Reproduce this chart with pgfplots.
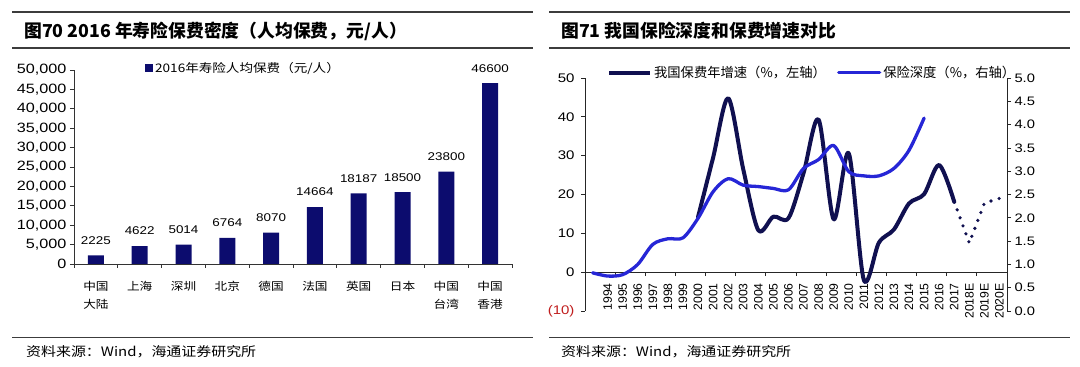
\documentclass[border=0pt]{standalone}
\usepackage{pgfplots}
\pgfplotsset{compat=1.18}
\usepackage{fontspec}
\setmainfont{Liberation Sans}
\newfontfamily\numf[FakeStretch=1.2]{Liberation Sans}
\newfontfamily\cjk{Noto Sans CJK SC}
\newfontfamily\cjkw[FakeStretch=1.15]{Noto Sans CJK SC}
\definecolor{barblue}{RGB}{12,12,110}
\definecolor{darkline}{RGB}{16,16,80}
\definecolor{bluel}{RGB}{38,38,214}
\definecolor{rulec}{RGB}{60,60,60}
\definecolor{redlab}{RGB}{192,30,30}
\newcommand{\fs}[1]{\fontsize{#1pt}{#1pt}\selectfont}
\pgfplotsset{/pgf/number format/assume math mode=true}
\begin{document}
\begin{tikzpicture}
\path[use as bounding box] (0,0) rectangle (1080pt,367pt);
% rules
\draw[rulec, line width=1.3pt] (12pt,355pt) -- (533pt,355pt);
\draw[rulec, line width=1.3pt] (12pt,319pt) -- (533pt,319pt);
\draw[rulec, line width=1pt] (12pt,29pt) -- (533pt,29pt);
\draw[rulec, line width=1.3pt] (549pt,355pt) -- (1070pt,355pt);
\draw[rulec, line width=1.3pt] (549pt,319pt) -- (1070pt,319pt);
\draw[rulec, line width=1pt] (549pt,29pt) -- (1070pt,29pt);
% titles
\node[anchor=west, inner sep=0pt] at (24pt,336pt) {\cjk\bfseries\fs{17.8}图70 2016 年寿险保费密度（人均保费，元/人）};
\node[anchor=west, inner sep=0pt] at (561pt,336pt) {\cjk\bfseries\fs{17.8}图71 我国保险深度和保费增速对比};
% sources
\node[anchor=west, inner sep=0pt] at (26pt,15pt) {\cjkw\fs{13}资料来源：Wind，海通证券研究所};
\node[anchor=west, inner sep=0pt] at (561pt,15pt) {\cjkw\fs{13}资料来源：Wind，海通证券研究所};

% ---------- left chart ----------
\begin{axis}[at={(74pt,103pt)}, anchor=south west, scale only axis,
  width=438pt, height=194pt,
  xmin=0.5, xmax=10.5, ymin=0, ymax=50000,
  axis x line=bottom, axis y line=left,
  axis line style={-, black!80, line width=0.8pt},
  ytick={0,5000,...,50000}, scaled y ticks=false,
  yticklabel style={font=\numf\fs{13.5}, /pgf/number format/1000 sep={,}},
  xtick={1,...,10},
  xticklabels={{中国\\大陆},上海,深圳,北京,德国,法国,英国,日本,{中国\\台湾},{中国\\香港}},
  xticklabel style={font=\cjkw\fontsize{11pt}{18.5pt}\selectfont, align=center, anchor=north, inner sep=0pt, yshift=-13pt},
  minor xtick={0.5,1.5,...,10.5},
  major x tick style={draw=none},
  tick align=outside, major tick length=4pt, minor tick length=4pt,
  tick style={black!80, line width=0.8pt},
  legend style={at={(0.162,1.010)}, anchor=west, draw=none, fill=none, inner sep=0pt,
    font=\cjkw\fs{11.8}},
  legend cell align=left,
]
\addplot[ybar, bar width=16pt, fill=barblue, draw=none,
  legend image code/.code={\fill[barblue] (0pt,-4pt) rectangle (8pt,4pt);},
  nodes near coords={\pgfmathprintnumber[1000 sep={}]{\pgfplotspointmeta}},
  nodes near coords style={font=\numf\fs{11.2}, anchor=center, yshift=15pt, black}]
  coordinates {(1,2225)(2,4622)(3,5014)(4,6764)(5,8070)(6,14664)(7,18187)(8,18500)(9,23800)(10,46600)};
\addlegendentry{2016年寿险人均保费（元/人）}
\end{axis}

% ---------- right chart: left axis (growth) ----------
\begin{axis}[at={(585pt,56pt)}, anchor=south west, scale only axis,
  width=422pt, height=233pt,
  xmin=-0.5, xmax=27.5, ymin=-10, ymax=50,
  axis x line=middle, axis y line=left,
  axis line style={-, black!85, line width=0.8pt},
  ytick={-10,0,10,20,30,40,50},
  yticklabels={{\textcolor{redlab}{(10)}},0,10,20,30,40,50},
  yticklabel style={font=\numf\fs{12.5}, xshift=-3pt},
  xtick={1,...,27},
  xticklabels={1994,1995,1996,1997,1998,1999,2000,2001,2002,2003,2004,2005,2006,2007,2008,2009,2010,2011,2012,2013,2014,2015,2016,2017,2018E,2019E,2020E},
  xticklabel style={font=\fs{12.2}, rotate=90, anchor=east, inner ysep=0pt, inner xsep=7pt},
  minor xtick={1.5,3.5,...,27.5},
  major x tick style={draw=none},
  tick align=outside, major tick length=4pt, minor tick length=4pt,
  tick style={black!85, line width=0.8pt},
]
\addplot[darkline, line width=4pt, smooth, line join=round, line cap=round]
  coordinates {(7,14.2)(8,29.5)(9,44.8)(10,26.5)(11,10.8)(12,14.3)(13,13.9)(14,25.5)(15,39.3)(16,13.6)(17,30.6)(18,-2.0)(19,7.6)(20,11.0)(21,17.7)(22,20.1)(23,27.6)(24,18.1)};
\addplot[darkline, line width=3.6pt, line cap=round, dash pattern=on 0pt off 8.5pt]
  coordinates {(24,18.1)(25,7.5)(26,17.8)(27,19.0)};
\end{axis}

% ---------- right chart: right axis (depth) ----------
\begin{axis}[at={(585pt,56pt)}, anchor=south west, scale only axis,
  width=422pt, height=233pt,
  xmin=-0.5, xmax=27.5, ymin=0, ymax=5,
  axis x line=none, axis y line=right,
  axis line style={-, black!85, line width=0.8pt},
  ytick={0,0.5,...,5},
  yticklabel style={font=\numf\fs{12.3}, /pgf/number format/.cd, fixed, fixed zerofill, precision=1},
  tick align=outside, major tick length=4pt,
  tick style={black!85, line width=0.8pt},
  legend style={at={(0.052,1.0227)}, anchor=west, draw=none, fill=none, inner sep=0pt,
    legend columns=2, font=\cjk\fs{13.3},
    nodes={inner xsep=2pt},
    /tikz/every even column/.append style={column sep=9pt}},
  legend image code/.code={\draw[#1] (0pt,0pt) -- (41pt,0pt);},
]
\addlegendimage{darkline, line width=4pt}
\addlegendentry{我国保费年增速（\%，左轴）}
\addplot[bluel, line width=3.3pt, smooth, line join=round, line cap=round]
  coordinates {(0,0.82)(1,0.75)(2,0.78)(3,1.00)(4,1.43)(5,1.55)(6,1.57)(7,1.99)(8,2.56)(9,2.84)(10,2.70)(11,2.67)(12,2.63)(13,2.60)(14,3.06)(15,3.25)(16,3.55)(17,2.99)(18,2.90)(19,2.90)(20,3.06)(21,3.45)(22,4.14)};
\addlegendentry{保险深度（\%，右轴）}
\end{axis}
\end{tikzpicture}
\end{document}
